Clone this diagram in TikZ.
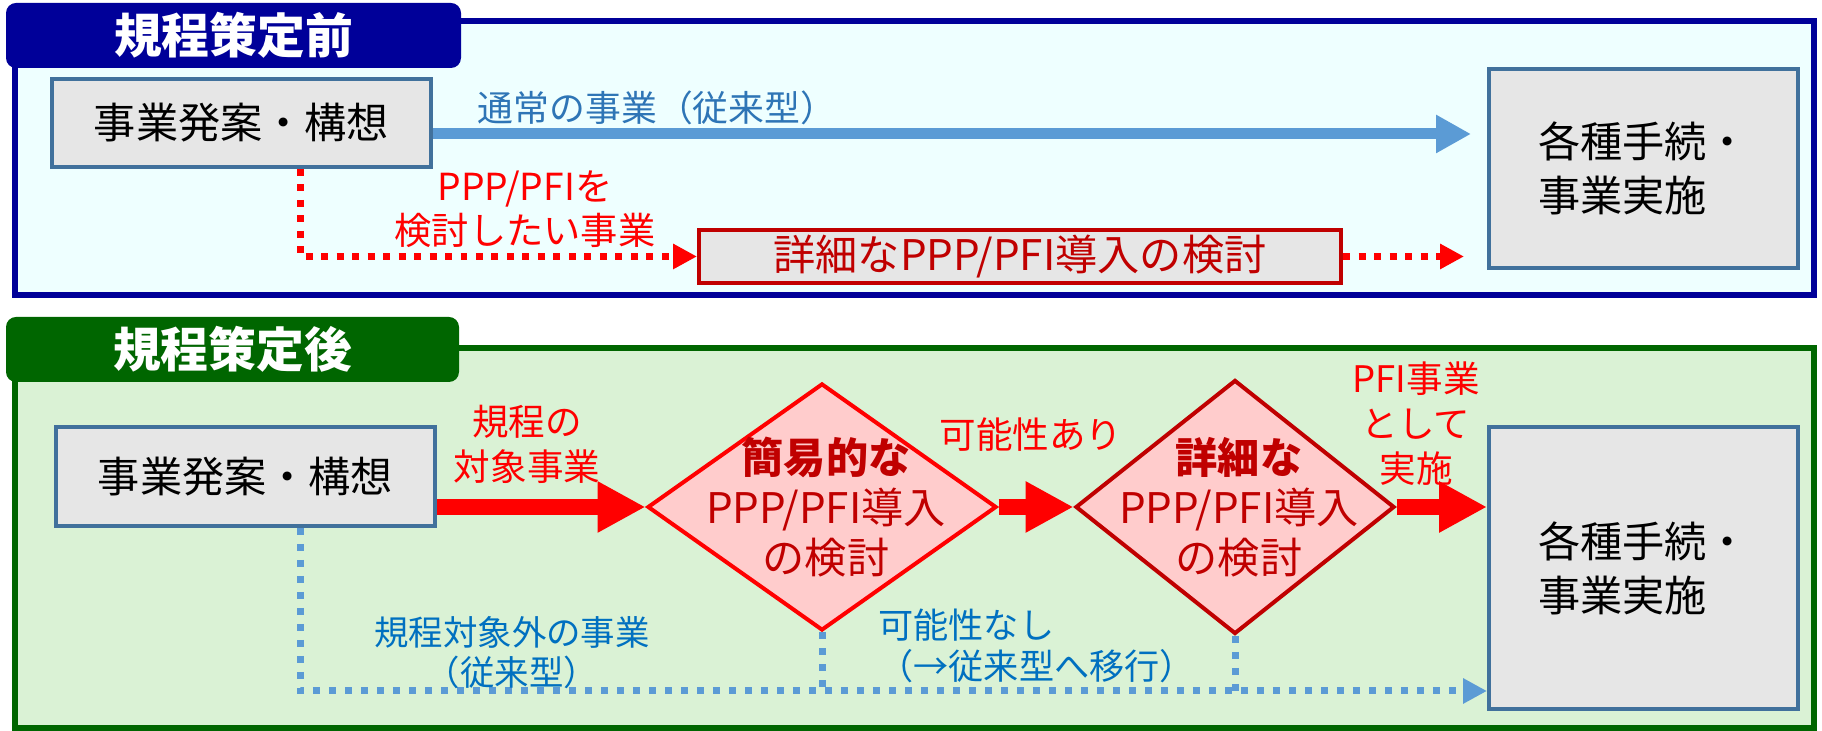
\documentclass[tikz,border=0pt]{standalone}
\usepackage{fontspec}
\setmainfont{Noto Sans CJK JP}
\usepackage{tikz}
\usetikzlibrary{shapes.geometric,arrows.meta}
\usepackage{xcolor}

\definecolor{navyline}{HTML}{000099}
\definecolor{skyfill}{HTML}{EEFFFF}
\definecolor{forestline}{HTML}{006600}
\definecolor{mintfill}{HTML}{DAF2D5}
\definecolor{boxgray}{HTML}{E6E6E6}
\definecolor{boxline}{HTML}{41719C}
\definecolor{arrowblue}{HTML}{5B9BD5}
\definecolor{textblue}{HTML}{2E75B6}
\definecolor{labelblue}{HTML}{0070C0}
\definecolor{darkred}{HTML}{C00000}
\definecolor{pinkfill}{HTML}{FFCCCC}

\tikzset{
  every stage/.style={draw=boxline, fill=boxgray, line width=0.4mm, inner sep=0pt,
    font=\fontsize{12}{15.4}\selectfont},
  every tab/.style={rounded corners=1mm, inner sep=0pt, text=white,
    font=\fontsize{13.6}{16}\selectfont\bfseries},
  every panel/.style={line width=0.55mm},
  every check/.style={diamond, fill=pinkfill, line width=0.4mm, inner sep=0pt},
  check text/.style={text=darkred, align=center, font=\fontsize{12}{14.2}\selectfont},
  fat blue/.style={draw=arrowblue, line width=1.1mm, -{Triangle[length=3.5mm, width=3.6mm]}},
  fat red/.style={draw=red, line width=1.6mm, -{Triangle[length=4.8mm, width=4.8mm]}},
  red dots/.style={draw=red, line width=0.7mm, dash pattern=on 0.7mm off 0.85mm},
  blue dots/.style={draw=arrowblue, line width=0.7mm, dash pattern=on 0.7mm off 0.9mm},
  small tip/.style={-{Triangle[length=2.4mm, width=2.4mm]}},
  small label/.style={align=center, font=\fontsize{10.4}{12.8}\selectfont}
}

\begin{document}
\begin{tikzpicture}[x=0.1mm, y=-0.1mm]
	\useasboundingbox (0,0) rectangle (1822,731);

	%before
	\draw [every panel/.try, draw=navyline, fill=skyfill] (15,21) rectangle (1814,295);
	\node [every tab/.try, fill=navyline, minimum width=45.5mm, minimum height=6.5mm] (before) at (233.5,35.5) {規程策定前};

	\node [every stage/.try, minimum width=37.9mm, minimum height=8.8mm] (idea) at (241.5,123) {事業発案・構想};
	\node [every stage/.try, minimum width=30.9mm, minimum height=19.9mm, align=left] (work) at (1643.5,168.5) {各種手続・\\事業実施};
	\node [every stage/.try, draw=darkred, text=darkred, minimum width=64.2mm, minimum height=5.3mm] (detail) at (1020,256.5) {詳細なPPP/PFI導入の検討};

	\coordinate (usual) at (0,134);
	\coordinate (drop) at (300,0);

	\draw [fat blue, shorten >=1.6mm] (idea.east |- usual) -- (work.west |- usual);
	\draw [red dots, small tip] (idea.south -| drop) |- (detail.west);
	\draw [red dots, small tip, shorten >=2.3mm] (detail.east) -- (detail.east -| work.west);

	\node [text=textblue, font=\fontsize{10.2}{12}\selectfont] (usual-label) at (657,108) {通常の事業（従来型）};
	\node [small label, text=red, font=\fontsize{10.6}{12.5}\selectfont] (want-label) at (525,209) {PPP/PFIを\\検討したい事業};

	%after
	\draw [every panel/.try, draw=forestline, fill=mintfill] (15,348) rectangle (1814,728);
	\node [every tab/.try, fill=forestline, minimum width=45.3mm, minimum height=6.5mm] (after) at (232.5,349.5) {規程策定後};

	\node [every stage/.try, minimum width=37.9mm, minimum height=9.9mm] (plan) at (245.5,476.5) {事業発案・構想};
	\node [every stage/.try, minimum width=30.9mm, minimum height=28.2mm, align=left] (done) at (1643.5,568) {各種手続・\\事業実施};

	\node [every check/.try, draw=red, minimum width=34.9mm, minimum height=24.7mm] (quick) at (822,507) {};
	\node [every check/.try, draw=darkred, minimum width=31.9mm, minimum height=25.4mm] (deep) at (1235,507) {};
	\node [check text] (quick-text) at (826,507) {\textbf{簡易的な}\\PPP/PFI導入\\の検討};
	\node [check text] (deep-text) at (1239,507) {\textbf{詳細な}\\PPP/PFI導入\\の検討};

	\coordinate (late) at (0,691);

	\draw [fat red] (plan.east |- quick.west) -- (quick.west);
	\draw [fat red] (quick.east) -- (deep.west);
	\draw [fat red] (deep.east) -- (deep.east -| done.west);

	\draw [blue dots, small tip] (plan.south -| drop) |- (late -| done.west);
	\foreach \d in {quick,deep}
	  \draw [blue dots] (\d.south) -- (\d.south |- late);

	\node [small label, text=red] (rule-label) at (527,444) {規程の\\対象事業};
	\node [small label, text=red] (yes-label) at (1031,435) {可能性あり};
	\node [small label, text=red] (pfi-label) at (1416,424) {PFI事業\\として\\実施};
	\node [small label, text=labelblue, font=\fontsize{9.8}{11.4}\selectfont] (other-label) at (512,653) {規程対象外の事業\\（従来型）};
	\node [small label, text=labelblue, align=left, anchor=west, font=\fontsize{10}{11.7}\selectfont] (no-label) at (866,646) {可能性なし\\（→従来型へ移行）};
\end{tikzpicture}
\end{document}
